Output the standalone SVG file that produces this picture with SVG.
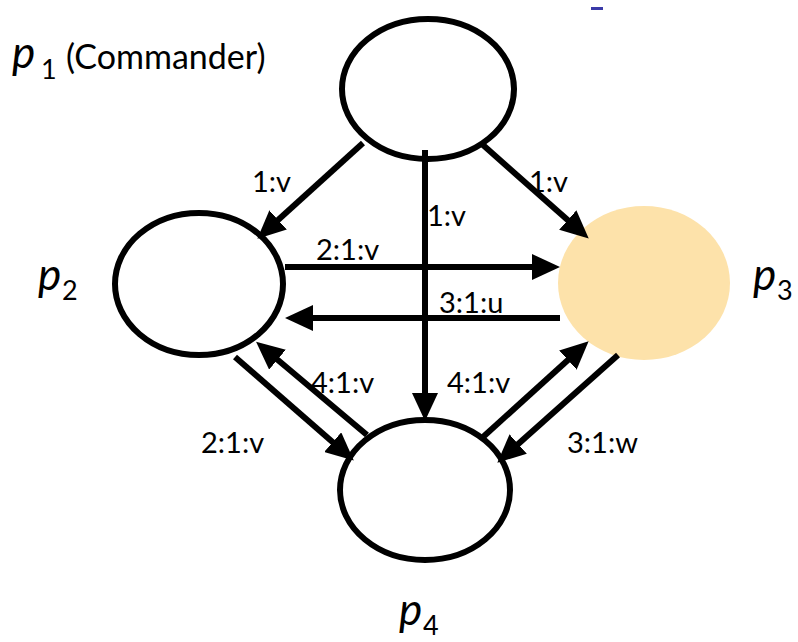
<svg xmlns="http://www.w3.org/2000/svg" width="798" height="642" viewBox="0 0 798 642">
<defs>
<style>
.node{fill:#fff;stroke:#000;stroke-width:6}
.edge{stroke:#000;stroke-width:6;fill:none;marker-end:url(#ah)}
.lbl{font-family:Lato,"Open Sans",sans-serif;font-size:29px;fill:#000}
.pn{font-family:Lato,"Open Sans",sans-serif;font-style:italic;font-size:44px;fill:#000}
.sub{font-family:Lato,"Open Sans",sans-serif;font-size:27px;fill:#000}
</style>
<marker id="ah" markerUnits="userSpaceOnUse" markerWidth="28" markerHeight="26" refX="15" refY="13" orient="auto">
<path d="M0,0 L28,13 L0,26 z" fill="#000"/>
</marker>
</defs>
<rect width="798" height="642" fill="#fff"/>
<rect x="591" y="7" width="12" height="3" fill="#3a3aa8"/>
<g id="p1">
<ellipse class="node" cx="428" cy="89" rx="86" ry="70"/>
<text class="pn" x="12" y="68">p</text><text class="sub" x="41" y="79">1</text>
<text class="lbl" x="66" y="69" style="font-size:34px">(Commander)</text>
</g>
<g id="p2">
<ellipse class="node" cx="199" cy="284" rx="84" ry="71"/>
<text class="pn" x="38" y="290">p</text><text class="sub" x="62" y="300">2</text>
</g>
<g id="p3">
<ellipse cx="644" cy="283" rx="86" ry="77" fill="#fde2aa"/>
<text class="pn" x="753" y="290">p</text><text class="sub" x="777" y="300">3</text>
</g>
<g id="p4">
<ellipse class="node" cx="425" cy="490" rx="85" ry="70"/>
<text class="pn" x="399" y="625">p</text><text class="sub" x="423" y="635">4</text>
</g>
<g id="connectors">
<line class="edge" x1="363" y1="143" x2="267" y2="230"/>
<line class="edge" x1="483" y1="145" x2="579" y2="230"/>
<line class="edge" x1="425" y1="150" x2="425" y2="408"/>
<line class="edge" x1="285" y1="267" x2="547" y2="267"/>
<line class="edge" x1="560" y1="318" x2="298" y2="318"/>
<line class="edge" x1="367" y1="435" x2="266" y2="350"/>
<line class="edge" x1="235" y1="357" x2="344" y2="452"/>
<line class="edge" x1="483" y1="437" x2="579" y2="350"/>
<line class="edge" x1="618" y1="355" x2="507" y2="454"/>
<text class="lbl" x="252" y="192">1:v</text>
<text class="lbl" x="529" y="192">1:v</text>
<text class="lbl" x="427" y="226">1:v</text>
<text class="lbl" x="316" y="260">2:1:v</text>
<text class="lbl" x="439" y="313">3:1:u</text>
<text class="lbl" x="311" y="393">4:1:v</text>
<text class="lbl" x="447" y="393">4:1:v</text>
<text class="lbl" x="201" y="453">2:1:v</text>
<text class="lbl" x="567" y="453">3:1:w</text>
</g>
</svg>
